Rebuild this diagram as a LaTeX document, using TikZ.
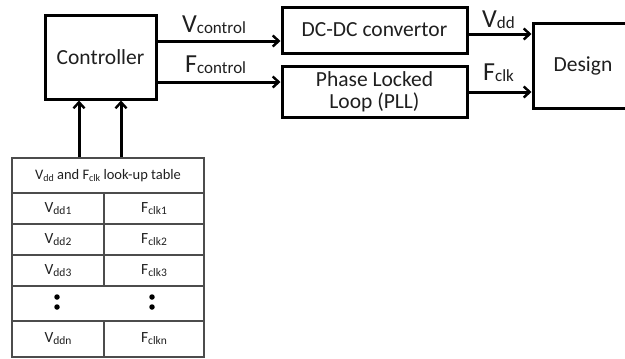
\documentclass[tikz,border=0pt]{standalone}
\usepackage{fontspec}
\setmainfont{Carlito}
\usetikzlibrary{arrows.meta}
\tikzset{
  blk/.style={draw=black, line width=3pt, inner sep=0pt, align=center, font=\fontsize{21.5}{24}\selectfont, text=black!88},
  arr/.style={line width=3pt, -{Straight Barb[length=6pt,width=11pt,line width=2.4pt]}},
  cell/.style={draw=black!70, line width=1.5pt, inner sep=0pt, font=\fontsize{15.5}{17}\selectfont, text=black!88},
  hcell/.style={cell, font=\fontsize{14.5}{17}\selectfont},
  lbl/.style={anchor=base west, inner sep=0pt, font=\fontsize{26}{28}\selectfont, text=black!88},
  dotn/.style={circle, fill=black, inner sep=0pt, minimum size=5.5pt}
}
\newcommand{\sbl}[1]{\raisebox{-1.5pt}{\fontsize{17}{19}\selectfont #1}}
\newcommand{\sbt}[1]{\raisebox{-2pt}{\fontsize{11.5}{12}\selectfont #1}}
\newcommand{\sbh}[1]{\raisebox{-2pt}{\fontsize{10}{12}\selectfont #1}}
\begin{document}
\begin{tikzpicture}[x=1pt,y=-1pt]
\clip (0,0) rectangle (625,359);
% main blocks
\node[blk, minimum width=111pt, minimum height=84pt] (ctrl) at (100.5,57) {Controller};
\node[blk, minimum width=185pt, minimum height=46pt] (dcdc) at (374.5,30) {DC-DC convertor};
\node[blk, minimum width=185pt, minimum height=51pt] (pll) at (374.5,91.5) {Phase Locked\\[-2pt]Loop (PLL)};
\node[blk, minimum width=100pt, minimum height=85pt] (des) at (583,65.5) {Design};
% labels
\node[lbl] (lv) at (182,32) {V\sbl{control}};
\node[lbl] (lf) at (185,72) {F\sbl{control}};
\node[lbl] (lvdd) at (482,27) {V\sbl{dd}};
\node[lbl] (lfclk) at (483,80) {F\sbl{clk}};
% arrows
\draw[arr] (ctrl.east |- 0,41) -- (dcdc.west |- 0,41);
\draw[arr] (ctrl.east |- 0,82) -- (pll.west |- 0,82);
\draw[arr] (dcdc.east |- 0,34) -- (des.west |- 0,34);
\draw[arr] (pll.east |- 0,92) -- (des.west |- 0,92);
% table
\node[hcell, minimum width=192pt, minimum height=35pt] (hdr) at (108,175.5) {V\sbh{dd} and F\sbh{clk} look-up table};
\node[cell, minimum width=92pt, minimum height=31pt] (v1) at (58,208.5) {V\sbt{dd1}};
\node[cell, minimum width=100pt, minimum height=31pt] (f1) at (154,208.5) {F\sbt{clk1}};
\node[cell, minimum width=92pt, minimum height=31pt] (v2) at (58,239.5) {V\sbt{dd2}};
\node[cell, minimum width=100pt, minimum height=31pt] (f2) at (154,239.5) {F\sbt{clk2}};
\node[cell, minimum width=92pt, minimum height=31pt] (v3) at (58,270.5) {V\sbt{dd3}};
\node[cell, minimum width=100pt, minimum height=31pt] (f3) at (154,270.5) {F\sbt{clk3}};
\node[cell, minimum width=192pt, minimum height=35pt] (dots) at (108,303.5) {};
\node[cell, minimum width=92pt, minimum height=36pt] (vn) at (58,339) {V\sbt{ddn}};
\node[cell, minimum width=100pt, minimum height=36pt] (fn) at (154,339) {F\sbt{clkn}};
\node[dotn] (d1) at (57,297) {};
\node[dotn] (d2) at (57,307) {};
\node[dotn] (d3) at (152,297) {};
\node[dotn] (d4) at (152,307) {};
% up arrows
\draw[arr] (hdr.north -| 79,0) -- (ctrl.south -| 79,0);
\draw[arr] (hdr.north -| 121,0) -- (ctrl.south -| 121,0);
\end{tikzpicture}
\end{document}
